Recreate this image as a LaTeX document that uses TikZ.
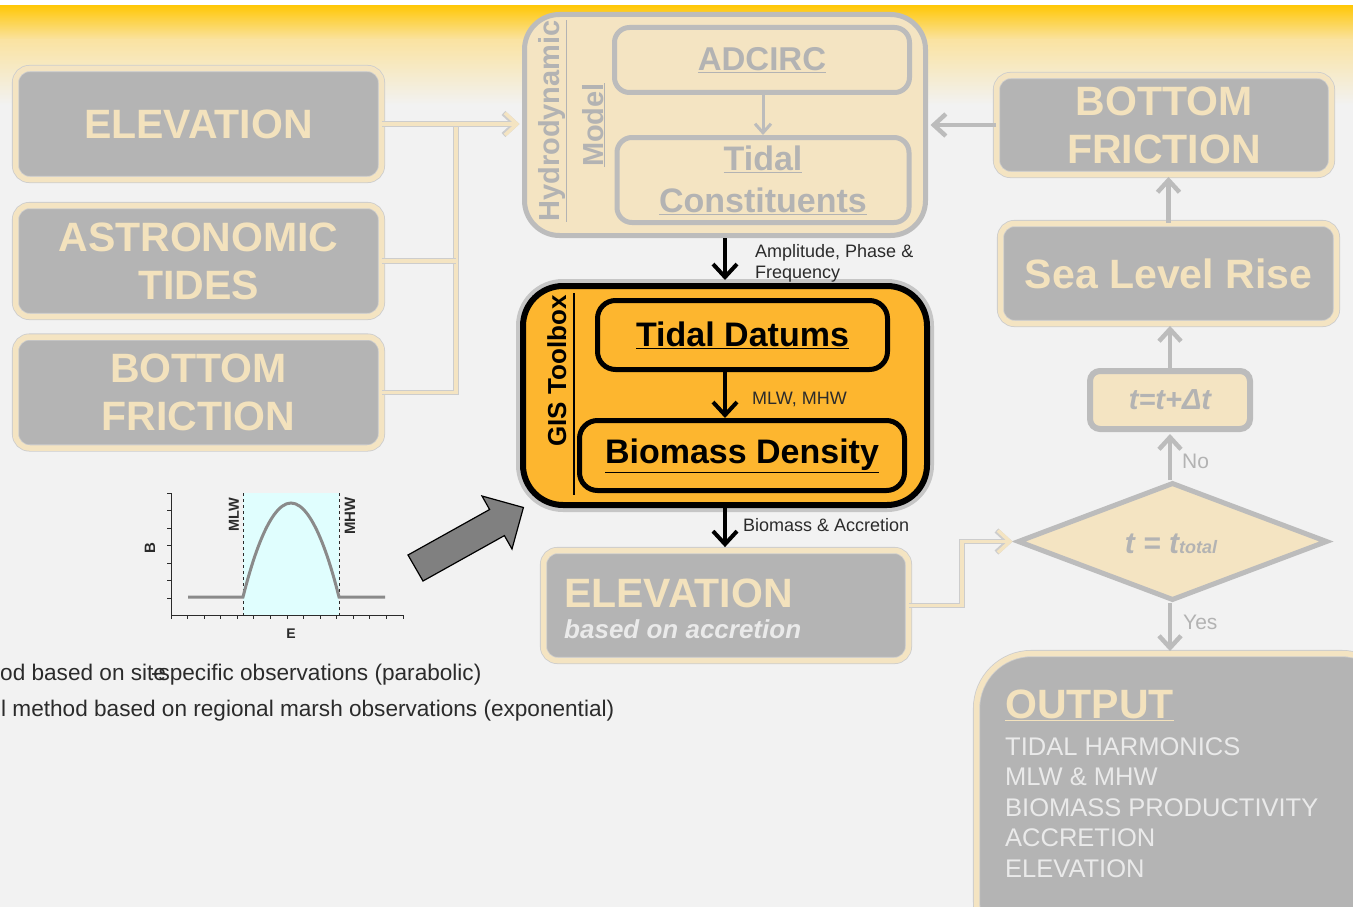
\documentclass[tikz,border=0pt]{standalone}
\usepackage{fontspec}
\setmainfont{Liberation Sans}
\usetikzlibrary{arrows.meta,shapes.geometric}
\definecolor{bg}{HTML}{F2F2F2}
\definecolor{gold}{HTML}{FFC80A}
\definecolor{lgold}{HTML}{FAE3A2}
\definecolor{beige}{HTML}{F4E4C2}
\definecolor{btxt}{HTML}{F3E2BD}
\definecolor{gfill}{HTML}{B4B4B4}
\definecolor{gline}{HTML}{BCBCBC}
\definecolor{edge}{HTML}{CDCDCD}
\definecolor{htxt}{HTML}{B3B3B3}
\definecolor{orng}{HTML}{FDB62F}
\definecolor{ltxt}{HTML}{EAEAEA}
\definecolor{dtxt}{HTML}{2B2B2B}
\definecolor{cyanish}{HTML}{E0FEFE}
\definecolor{curvec}{HTML}{8A8A8A}
\definecolor{arrowfill}{HTML}{808080}
\newcommand{\pxs}[2]{\fontsize{#1pt}{#2pt}\selectfont}
\begin{document}
\begin{tikzpicture}[x=1pt,y=-1pt,
  gbox/.style={rounded corners=14pt, fill=gfill, draw=edge, line width=0.8pt, double=beige, double distance=5.5pt, inner sep=0pt, align=center, text=btxt, font=\bfseries\pxs{41}{48}},
  hbox/.style={rounded corners=15pt, fill=beige, draw=gline, line width=5pt, inner sep=0pt, align=center, text=htxt, font=\bfseries\pxs{34}{42}},
  obox/.style={rounded corners=18pt, fill=orng, draw=black, line width=5pt, inner sep=0pt, align=center, text=black, font=\bfseries\pxs{34}{40}},
  blkarr/.style={draw=black, line width=4pt, -{Straight Barb[length=13pt,width=24pt]}},
  garr/.style={draw=gline, line width=4.5pt, -{Straight Barb[length=12pt,width=22pt]}},
  barr/.style={draw=beige, line width=3.5pt, preaction={draw=edge, line width=5.5pt}},
  btip/.style={-{Straight Barb[length=12pt,width=22pt]}},
  lbl/.style={text=dtxt, font=\pxs{18}{21}, inner sep=0pt, anchor=base west},
  glbl/.style={text=htxt, font=\pxs{21}{24}, inner sep=0pt, anchor=base west},
  vtext/.style={rotate=90, anchor=base, inner sep=0pt},
]
\useasboundingbox (0,0) rectangle (1353,907);
\clip (0,0) rectangle (1353,907);
% background
\fill[white] (0,0) rectangle (1353,6);
\fill[bg] (0,6) rectangle (1353,907);
\shade[top color=gold, bottom color=lgold] (0,6) rectangle (1353,40);
\shade[top color=lgold, bottom color=bg] (0,40) rectangle (1353,105);

% left input boxes
\node[gbox, minimum width=366pt, minimum height=111pt] (elev) at (198.5,124) {ELEVATION};
\node[gbox, minimum width=366pt, minimum height=111pt] (astro) at (198.5,261) {ASTRONOMIC\\TIDES};
\node[gbox, minimum width=366pt, minimum height=111pt] (bfl) at (198.5,392.5) {BOTTOM\\FRICTION};

% hydrodynamic model
\node[hbox, rounded corners=35pt, minimum width=401pt, minimum height=221pt] (hydro) at (725,125) {};
\node[vtext, text=htxt, font=\bfseries\pxs{29}{32}] (hydt) at (559,121) {\underline{Hydrodynamic}};
\node[vtext, text=htxt, font=\bfseries\pxs{29}{32}] (modt) at (603,125) {\underline{Model}};
\node[hbox, font=\bfseries\pxs{33}{40}, minimum width=295pt, minimum height=65pt] (adc) at (762,60) {\underline{ADCIRC}};
\node[hbox, minimum width=292pt, minimum height=85pt] (tcon) at (763,180) {\underline{Tidal}\\\underline{Constituents}};
\draw[garr, line width=3pt, -{Straight Barb[length=9pt,width=16pt]}] (adc.south -| tcon.north) -- (tcon.north);

% GIS toolbox
\node[rounded corners=40pt, fill=orng, draw=black, line width=6pt, inner sep=0pt,
      minimum width=404pt, minimum height=219pt,
      preaction={draw=black, opacity=0.18, line width=14pt}] (gis) at (725,395.5) {};
\node[vtext, text=black, font=\bfseries\pxs{26}{30}] (gist) at (566,371) {GIS Toolbox};
\coordinate (gl1) at (574,293);
\coordinate (gl2) at (574,495);
\draw[black, line width=1.5pt] (gl1) -- (gl2);
\node[obox, minimum width=290pt, minimum height=69pt] (tdat) at (742.5,335) {\underline{Tidal Datums}};
\node[obox, minimum width=325pt, minimum height=70pt] (bio) at (742,455.5) {\underline{Biomass Density}};
\draw[blkarr] (tdat.south -| gis.north) -- (bio.north -| gis.north);
\node[lbl] (mlwl) at (752,404) {MLW, MHW};

% hydro -> GIS
\draw[blkarr, shorten >=3pt] (hydro.south) -- (gis.north);
\node[lbl] (ampl) at (755,257) {Amplitude, Phase \&};
\node[lbl] (freq) at (755,278) {Frequency};

% elevation based on accretion
\node[gbox, minimum width=365pt, minimum height=110pt] (el2) at (726,605.5) {};
\node[font=\bfseries\pxs{41}{48}, text=btxt, anchor=base west, inner sep=0pt] (el2t) at (564,607) {ELEVATION};
\node[font=\bfseries\itshape\pxs{26}{30}, text=ltxt, anchor=base west, inner sep=0pt] (el2s) at (564,638) {based on accretion};
\draw[blkarr, shorten >=3pt] (gis.south) -- (gis.south |- el2.north);
\node[lbl] (bial) at (743,531) {Biomass \& Accretion};

% input connectors
\coordinate (tk) at (456,126);
\draw[barr] (tk) -- (tk |- bfl.east) -- (bfl.east);
\draw[barr] (astro.east) -- (astro.east -| tk);
\draw[barr, btip, shorten >=2.5pt] (elev.east) -- (elev.east -| hydro.west);

% right column
\node[gbox, minimum width=335pt, minimum height=99pt] (bfr) at (1164,125) {BOTTOM\\FRICTION};
\node[gbox, minimum width=336pt, minimum height=100pt] (slr) at (1168.5,273.5) {Sea Level Rise};
\node[rounded corners=10pt, fill=beige, draw=gline, line width=6pt, inner sep=0pt,
      minimum width=160pt, minimum height=58pt, text=htxt, font=\bfseries\itshape\pxs{29}{32}] (tdt) at (1170,400) {t=t+Δt};
\node[diamond, fill=beige, draw=gline, line width=5pt, inner sep=0pt,
      minimum width=310pt, minimum height=118pt] (dia) at (1172.5,541.5) {};
\node[font=\bfseries\itshape, text=htxt, anchor=base, inner sep=0pt] (diat) at (1171,553) {\pxs{30}{34}t = t\pxs{18}{20}total};
\node[gbox, rounded corners=55pt, minimum width=420pt, minimum height=303pt] (out) at (1186.5,805) {};
\node[font=\bfseries\pxs{41}{48}, text=btxt, anchor=base west, inner sep=0pt] (outt) at (1005,718) {\underline{OUTPUT}};
\node[font=\pxs{25.5}{30.5}, text=ltxt, anchor=north west, inner sep=0pt, align=left] (outl) at (1005,737)
  {TIDAL HARMONICS\\MLW \& MHW\\BIOMASS PRODUCTIVITY\\ACCRETION\\ELEVATION};

\draw[garr, shorten >=2.5pt] (bfr.west) -- (bfr.west -| hydro.east);
\draw[garr, shorten >=2pt] (slr.north) -- (slr.north |- bfr.south);
\draw[garr, shorten >=2pt] (tdt.north) -- (tdt.north |- slr.south);
\draw[garr, shorten >=2pt] (dia.north -| tdt.north) -- (tdt.south);
\node[glbl] (nol) at (1182,468) {No};
\draw[garr, shorten >=2pt] (dia.south -| tdt.south) -- (tdt.south |- out.north);
\node[glbl] (yesl) at (1183,629) {Yes};
\coordinate (bend) at (962,0);
\draw[barr, btip, shorten >=2.5pt] (el2.east) -| (bend |- dia.west) -- (dia.west);

% biomass curve graph
\fill[cyanish] (243,493) rectangle (339,615);
\draw[dtxt, dashed, line width=0.8pt] (243,493) -- (243,615);
\draw[dtxt, dashed, line width=0.8pt] (339,493) -- (339,615);
\draw[curvec, line width=3pt] (188,597) -- (243,597) parabola bend (291,503) (339,597) -- (385,597);
\draw[dtxt, line width=1pt] (171,493) -- (171,615) -- (403,615);
\foreach \yy in {493,510.5,528,545.5,563,580.5,598} \draw[dtxt, line width=0.8pt] (171,\yy) -- (167,\yy);
\foreach \xx in {0,...,14} \draw[dtxt, line width=0.8pt] (171+16.57*\xx,615) -- (171+16.57*\xx,619);
\node[vtext, anchor=center, font=\bfseries\pxs{14.5}{16}, text=dtxt] (mlwg) at (234,515) {MLW};
\node[vtext, anchor=center, font=\bfseries\pxs{15}{16}, text=dtxt] (mhwg) at (350,516) {MHW};
\node[vtext, anchor=center, font=\bfseries\pxs{15}{16}, text=dtxt] (bg) at (150,548) {B};
\node[anchor=center, font=\bfseries\pxs{14}{16}, text=dtxt, inner sep=0pt] (eg) at (291,634) {E};

% block arrow
\draw[fill=arrowfill, draw=black, line width=1.2pt, line join=miter]
  (408,555) -- (489.6,509.5) -- (482,496) -- (523.4,507.5) -- (512,549) -- (504.4,535.6) -- (423,581) -- cycle;

% bottom text
\node[font=\pxs{22.6}{26}, text=dtxt, anchor=base west, inner sep=0pt] (t1) at (0,680) {od based on site\kern-15pt-specific observations (parabolic)};
\node[font=\pxs{22.6}{26}, text=dtxt, anchor=base west, inner sep=0pt] (t2) at (1,716) {l method based on regional marsh observations (exponential)};
\end{tikzpicture}
\end{document}
